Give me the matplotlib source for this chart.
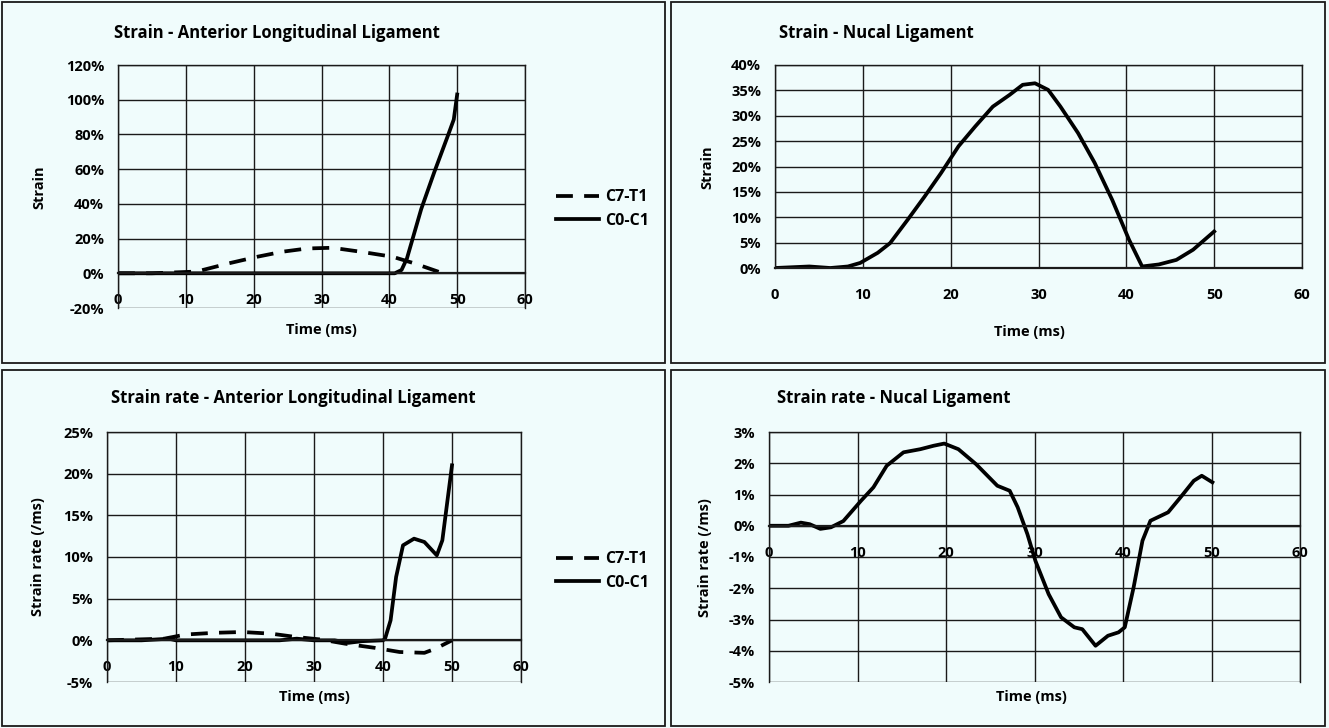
import matplotlib
matplotlib.use("Agg")
import matplotlib.pyplot as plt
from matplotlib.patches import Rectangle
from matplotlib.ticker import FuncFormatter

plt.rcParams['font.family'] = ['Open Sans', 'DejaVu Sans']
plt.rcParams['font.weight'] = 'bold'

W, H = 1329, 728
BG = '#f0fcfc'

# --- data (time in ms, values in %) ---
# strain, anterior longitudinal ligament
all_t_c7 = [0, 5, 11.6, 16.3, 20.5, 24.2, 27.9, 31.6, 35.8, 40.5, 43.7, 47.9]
all_strain_c7 = [0, 0, 1.0, 5.7, 9.5, 12.4, 14.3, 14.7, 12.4, 9.5, 5.7, 0]
all_t_c0 = [0, 10, 20, 30, 40, 40.8, 41.8, 42.6, 44.7, 46.6, 48.7, 49.5, 50]
all_strain_c0 = [0, 0, 0, 0, 0, 0, 1.9, 8.6, 37, 58, 80, 88.6, 103]

# strain, nucal ligament
nl_t = [0, 3.9, 6.3, 8.3, 9.7, 11.7, 13.1, 15.1, 17.0, 18.9, 20.9, 22.8,
        24.8, 26.7, 28.2, 29.6, 31.1, 32.5, 34.5, 36.4, 38.4, 40.3, 41.8,
        43.7, 45.7, 47.6, 50]
nl_strain = [0, 0.3, 0, 0.3, 1.0, 3.0, 4.9, 9.5, 14.0, 18.7, 24.0, 27.9,
             31.8, 34.1, 36.1, 36.4, 35.1, 31.8, 26.6, 20.7, 13.4, 5.6, 0.3,
             0.7, 1.6, 3.6, 7.2]

# strain rate, anterior longitudinal ligament
allr_t_c7 = [0, 8.3, 11.4, 15.5, 19.6, 23.8, 27.4, 31, 34.5, 36.2, 38.8,
             42.4, 46, 47.6, 50]
allr_c7 = [0, 0.2, 0.7, 0.9, 1.0, 0.8, 0.4, 0.1, -0.4, -0.6, -0.9, -1.4,
           -1.5, -1.0, 0]
allr_t_c0 = [0, 5, 9, 10, 15, 20, 25, 27.5, 30, 33, 35, 37, 40, 40.3, 41.1,
             41.9, 42.9, 44.5, 46, 47.8, 48.6, 50]
allr_c0 = [0, 0, 0.2, 0, 0, 0, 0, 0.2, 0, 0, -0.3, -0.1, 0, 0.2, 2.4, 7.6,
           11.4, 12.2, 11.8, 10.2, 12.0, 21.0]

# strain rate, nucal ligament
nlr_t = [0, 2.2, 3.6, 4.6, 5.8, 7.0, 8.4, 10.4, 11.8, 13.3, 15.2, 17.1,
         18.6, 19.8, 21.4, 23.4, 25.8, 27.2, 28.1, 29.2, 30.1, 31.6, 33.0,
         34.5, 35.4, 36.9, 38.3, 39.5, 40.2, 41.2, 42.2, 43.1, 45.1, 46.5,
         48.0, 48.9, 50.1]
nlr = [0, 0, 0.1, 0.05, -0.1, -0.05, 0.15, 0.8, 1.23, 1.92, 2.35, 2.45,
       2.56, 2.63, 2.45, 1.97, 1.28, 1.12, 0.59, -0.27, -1.12, -2.19, -2.93,
       -3.25, -3.31, -3.84, -3.52, -3.41, -3.25, -1.97, -0.48, 0.16, 0.43,
       0.91, 1.44, 1.6, 1.39]

x_ticks = [0, 10, 20, 30, 40, 50, 60]

TICK_FS = 10.5
LABEL_FS = 10.5
LEGEND_FS = 11.5
TITLE_FS = 12


def fx(x):
    return x / W


def fy(y):
    return 1 - y / H


def make_axes(fig, x0, y0, x1, y1, yticks):
    ax = fig.add_axes([fx(x0), fy(y1), (x1 - x0) / W, (y1 - y0) / H])
    ax.set_facecolor(BG)
    ax.set_xlim(0, 60)
    ax.set_ylim(yticks[0], yticks[-1])
    ax.set_xticks(x_ticks)
    ax.set_yticks(yticks)
    ax.yaxis.set_major_formatter(FuncFormatter(lambda v, p: '%d%%' % v))
    ax.grid(True, color='#1a1a1a', lw=1.0)
    ax.set_axisbelow(True)
    for s in ax.spines.values():
        s.set_color('#1a1a1a')
        s.set_linewidth(1.0)
    # excel puts the horizontal axis (and its labels) at y = 0
    ax.spines['bottom'].set_position(('data', 0))
    ax.spines['bottom'].set_linewidth(1.6)
    ax.tick_params(axis='x', length=0, pad=14.5, labelsize=TICK_FS)
    ax.tick_params(axis='y', length=0, pad=10, labelsize=TICK_FS)
    return ax


fig = plt.figure(figsize=(W / 100, H / 100), dpi=100)
fig.patch.set_facecolor(BG)

# panel frames
for (x0, y0, x1, y1) in [(2, 2, 665, 363), (671, 2, 1325, 363),
                         (2, 370, 665, 726), (671, 370, 1325, 726)]:
    fig.add_artist(Rectangle((fx(x0), fy(y1)), (x1 - x0) / W, (y1 - y0) / H,
                             transform=fig.transFigure, fill=False,
                             ec='#1a1a1a', lw=1.3))

lw = 2.7
dash = (4.5, 3.0)
leg_kw = dict(loc='center left', bbox_transform=fig.transFigure,
              frameon=False, fontsize=LEGEND_FS, handlelength=2.7,
              handletextpad=0.4, labelspacing=0.45, borderpad=0,
              borderaxespad=0)

# top left
ax1 = make_axes(fig, 118, 65, 525, 308, [-20, 0, 20, 40, 60, 80, 100, 120])
ax1.plot(all_t_c7, all_strain_c7, color='black', lw=lw, ls=(0, dash),
         label='C7-T1')
ax1.plot(all_t_c0, all_strain_c0, color='black', lw=lw, label='C0-C1')
ax1.legend(bbox_to_anchor=(fx(556), fy(209)), **leg_kw)

# top right
ax2 = make_axes(fig, 775, 65, 1302, 268, [0, 5, 10, 15, 20, 25, 30, 35, 40])
ax2.plot(nl_t, nl_strain, color='black', lw=lw)

# bottom left
ax3 = make_axes(fig, 107, 432, 521, 682, [-5, 0, 5, 10, 15, 20, 25])
ax3.plot(allr_t_c7, allr_c7, color='black', lw=lw, ls=(0, dash),
         label='C7-T1')
ax3.plot(allr_t_c0, allr_c0, color='black', lw=lw, label='C0-C1')
ax3.legend(bbox_to_anchor=(fx(556), fy(571)), **leg_kw)

# bottom right
ax4 = make_axes(fig, 769, 432, 1300, 682, [-5, -4, -3, -2, -1, 0, 1, 2, 3])
ax4.plot(nlr_t, nlr, color='black', lw=lw)

# titles and axis labels, placed in pixels like the original sheet
titles = [
    (114, 33, 'Strain - Anterior Longitudinal Ligament'),
    (779, 33, 'Strain - Nucal Ligament'),
    (111, 398, 'Strain rate - Anterior Longitudinal Ligament'),
    (777, 398, 'Strain rate - Nucal Ligament'),
]
for x, y, s in titles:
    fig.text(fx(x), fy(y), s, fontsize=TITLE_FS, ha='left', va='center')

ylabels = [(39, 187, 'Strain'), (707, 167, 'Strain'),
           (38, 557, 'Strain rate (/ms)'), (705, 558, 'Strain rate (/ms)')]
for x, y, s in ylabels:
    fig.text(fx(x), fy(y), s, fontsize=LABEL_FS, rotation=90, ha='center',
             va='center')

xlabels = [(321, 330), (1029, 332), (314, 697), (1031, 697)]
for x, y in xlabels:
    fig.text(fx(x), fy(y), 'Time (ms)', fontsize=LABEL_FS, ha='center',
             va='center')

fig.savefig('out.png', dpi=100, facecolor=BG)
